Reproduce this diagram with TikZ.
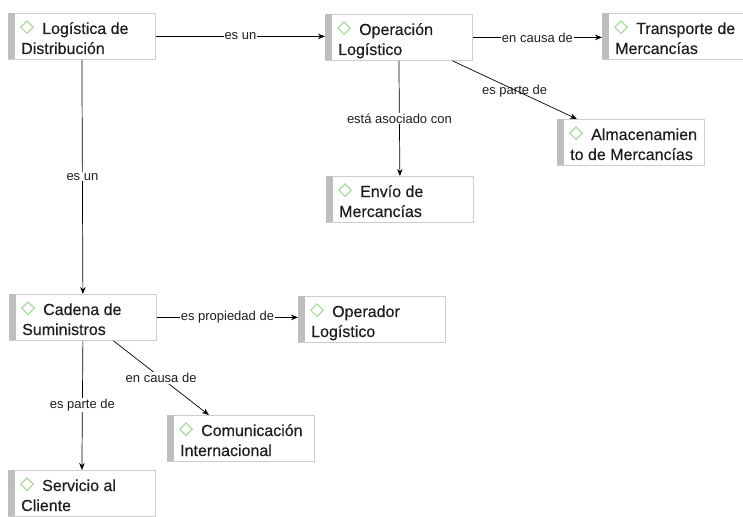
\documentclass[tikz,border=0pt]{standalone}
\usepackage{fontspec}
\setmainfont{Liberation Sans}
\newfontfamily\boxfont[FakeBold=0.35]{Liberation Sans}
\usetikzlibrary{arrows.meta,calc}
\definecolor{boxborder}{HTML}{CDCDCD}
\definecolor{barc}{HTML}{BEBEBE}
\definecolor{diac}{HTML}{A8DCA0}
\definecolor{txtc}{HTML}{1E1E1E}
\tikzset{
  cbox/.style={draw=boxborder, fill=white, line width=0.8pt, anchor=north west,
    minimum width=147pt, minimum height=46pt, inner sep=0pt},
  ctext/.style={anchor=base west, inner sep=0pt, text=txtc,
    font=\boxfont\fontsize{16pt}{20pt}\selectfont},
  link/.style={draw=black, line width=0.7pt, -{Stealth[length=7pt,width=5.5pt]}},
  lbl/.style={font=\fontsize{13pt}{15pt}\selectfont, text=txtc, inner sep=1pt, fill=white}
}
\newcommand\conceptbox[5]{%
  \node[cbox] (#1) at (#2,#3) {};
  \fill[barc] ([shift={(0.4pt,-0.4pt)}]#1.north west) rectangle ([shift={(7pt,0.4pt)}]#1.south west);
  \draw[diac, line width=1.2pt] ([shift={(19pt,-8pt)}]#1.north west) -- ++(6.2pt,-6.2pt) -- ++(-6.2pt,-6.2pt) -- ++(-6.2pt,6.2pt) -- cycle;
  \node[ctext] (#1t) at ([shift={(13pt,-21pt)}]#1.north west) {\parbox[t]{140pt}{\raggedright\hspace*{21pt}#4\\#5}};
}
\begin{document}
\begin{tikzpicture}[x=1pt,y=-1pt]
\useasboundingbox (0,0) rectangle (743,516);
\conceptbox{n1}{8}{13}{Logística de}{Distribución}
\conceptbox{n2}{325}{14}{Operación}{Logístico}
\conceptbox{n3}{602}{13}{Transporte de}{Mercancías}
\conceptbox{n4}{326}{176}{Envío de}{Mercancías}
\conceptbox{n5}{557}{119}{Almacenamien}{to de Mercancías}
\conceptbox{n6}{9}{294}{Cadena de}{Suministros}
\conceptbox{n7}{298}{296}{Operador}{Logístico}
\conceptbox{n8}{167}{415}{Comunicación}{Internacional}
\conceptbox{n9}{8}{470}{Servicio al}{Cliente}

\draw[link] (n1.east) -- (n1.east -| n2.west) node[lbl, midway] {es un};
\draw[link] (n2.east) -- (n2.east -| n3.west) node[lbl, midway] {en causa de};
\draw[link] (n2.south) -- (n4.north) node[lbl, midway] {está asociado con};
\draw[link] ([xshift=53.5pt]n2.south) -- ([xshift=-54pt]n5.north) node[lbl, midway, fill=none, yshift=-1pt] {es parte de};
\draw[link] (n1.south) -- (n6.north) node[lbl, midway] {es un};
\draw[link] (n6.east) -- (n6.east -| n7.west) node[lbl, midway] {es propiedad de};
\draw[link] ([xshift=30.5pt]n6.south) -- ([xshift=-32pt]n8.north) node[lbl, midway] {en causa de};
\draw[link] (n6.south) -- (n9.north) node[lbl, midway] {es parte de};
\end{tikzpicture}
\end{document}
